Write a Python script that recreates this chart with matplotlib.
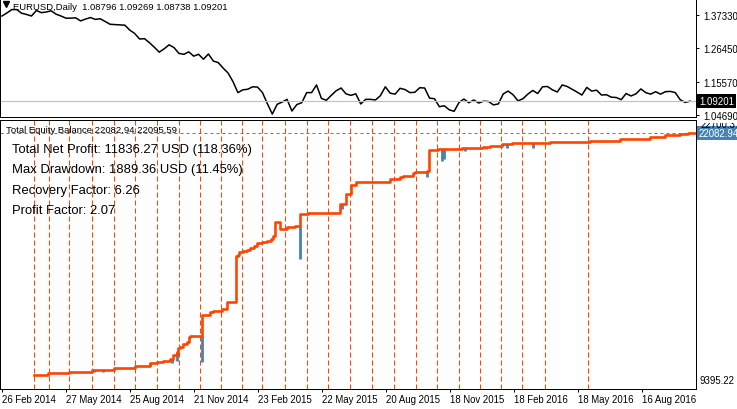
#!/usr/bin/env python3
import numpy as np
import matplotlib
matplotlib.use("Agg")
import matplotlib.pyplot as plt
from matplotlib.lines import Line2D
from matplotlib.transforms import Bbox

W, H = 737, 410

# EURUSD daily, read roughly once a week (close)
price = [1.3700, 1.3800, 1.3910, 1.3910, 1.3790, 1.3750, 1.3700, 1.3880, 1.3810, 1.3830,
         1.3870, 1.3760, 1.3700, 1.3630, 1.3630, 1.3640, 1.3540, 1.3600, 1.3650, 1.3590,
         1.3610, 1.3520, 1.3430, 1.3420, 1.3410, 1.3400, 1.3240, 1.3130, 1.2950, 1.2960,
         1.2830, 1.2680, 1.2520, 1.2630, 1.2760, 1.2670, 1.2480, 1.2450, 1.2530, 1.2390,
         1.2450, 1.2290, 1.2460, 1.2230, 1.2180, 1.2000, 1.1840, 1.1560, 1.1200, 1.1290,
         1.1310, 1.1390, 1.1380, 1.1200, 1.0840, 1.0500, 1.0820, 1.0890, 1.0980, 1.0600,
         1.0810, 1.0870, 1.1200, 1.1200, 1.1450, 1.1010, 1.0950, 1.1110, 1.1260, 1.1350,
         1.1160, 1.1110, 1.1160, 1.0830, 1.0980, 1.0980, 1.0960, 1.1100, 1.1390, 1.1180,
         1.1150, 1.1340, 1.1300, 1.1200, 1.1210, 1.1360, 1.1350, 1.1020, 1.1000, 1.0740,
         1.0770, 1.0640, 1.0590, 1.0880, 1.0990, 1.0870, 1.0960, 1.0860, 1.0920, 1.0910,
         1.0800, 1.0830, 1.1160, 1.1250, 1.1130, 1.0930, 1.1000, 1.1150, 1.1270, 1.1170,
         1.1390, 1.1400, 1.1290, 1.1220, 1.1450, 1.1400, 1.1310, 1.1220, 1.1120, 1.1370,
         1.1250, 1.1280, 1.1120, 1.1130, 1.1050, 1.1040, 1.0970, 1.1170, 1.1090, 1.1160,
         1.1320, 1.1200, 1.1150, 1.1230, 1.1150, 1.1230, 1.1240, 1.1200, 1.0970, 1.0880,
         1.09201]
last_price = 1.09201
price_ticks = [1.37330, 1.26450, 1.15570, 1.04690]

# x axis is in daily bars, bar 0 = 26 Feb 2014
date_ticks = [0, 64, 128, 192, 256, 320, 384, 448, 512, 576, 640]
date_labels = ["26 Feb 2014", "27 May 2014", "25 Aug 2014", "21 Nov 2014", "23 Feb 2015",
               "22 May 2015", "20 Aug 2015", "18 Nov 2015", "18 Feb 2016", "18 May 2016",
               "16 Aug 2016"]

# balance steps (bar, USD)
balance_bar = [32, 46, 67, 90, 112, 133, 148, 155, 161, 168, 171, 175, 176, 178, 181, 185,
               187, 188, 200, 208, 211, 220, 225, 228, 234, 236, 237, 241, 245, 248, 252,
               255, 260, 265, 269, 271, 273, 278, 285, 293, 298, 306, 338, 344, 349, 354,
               388, 398, 401, 411, 413, 425, 427, 436, 460, 481, 488, 500, 510, 521, 531,
               548, 588, 618, 648, 663, 678, 686, 693]
balance = [9652, 9755, 9822, 9909, 10012, 10130, 10268, 10335, 10387, 10474, 10680, 10834,
           11039, 11090, 11245, 11363, 11604, 11671, 12734, 12888, 12955, 13043, 13387, 13418,
           15781, 15817, 15971, 16037, 16089, 16176, 16294, 16433, 16469, 16551, 16638, 16808,
           17527, 17152, 17239, 17321, 17907, 17974, 18436, 18950, 19412, 19566, 19720, 19839,
           19890, 20029, 20065, 20147, 21226, 21277, 21328, 21380, 21431, 21503, 21554, 21585,
           21554, 21621, 21672, 21775, 21878, 21981, 22030, 22082.94, 22082.94]

# equity drawdowns below balance (bar, lowest equity)
dip_bar = [92, 101, 148, 170, 175, 199.5, 243.5, 297.5, 340, 425, 439.5, 442, 463, 483.5,
           504.5, 531]
dip_low = [9830, 9830, 10114, 10268, 10387, 10320, 15971, 15611, 18180, 19839, 20630, 20748,
           21174, 21287, 21328, 21297]

# vertical month separators (bar)
month_bars = [32, 47, 67, 90, 112, 133, 155, 177, 198, 219, 240, 260, 283, 305, 326, 348,
              370, 392, 414, 435, 457, 478, 499, 520, 543, 586]

final_balance = 22082.94
equity_top = 22700.37
equity_low = 9395.22

ORANGE = "#FF4500"
BLUE = "#4682B4"

plt.rcParams['font.family'] = ['Liberation Sans', 'DejaVu Sans']


def fx(x):
    return x / W


def fy(y):
    return 1 - y / H


def main():
    fig = plt.figure(figsize=(W / 100, H / 100), dpi=100)

    # price panel
    ax1 = fig.add_axes([0, fy(118), 696 / W, 118 / H])
    bars = np.linspace(0, 688, len(price))
    ax1.plot(bars, price, color='black', lw=1.1)
    ax1.axhline(last_price, color='#C0C0C0', lw=0.8)
    ax1.set_xlim(-2, 694)
    ax1.set_ylim(1.0404, 1.4255)
    ax1.set_xticks([])
    ax1.yaxis.tick_right()
    ax1.set_yticks(price_ticks)
    ax1.set_yticklabels(["%.5f" % v for v in price_ticks])
    ax1.tick_params(axis='y', length=2.5, width=0.72, pad=3, labelsize=6.9)
    for s in ax1.spines.values():
        s.set_linewidth(0.72)

    # equity / balance panel
    ax2 = fig.add_axes([0, fy(390), 696 / W, 269 / H])
    ax2.set_xlim(-2, 694)
    ax2.set_ylim(8933, 22751)
    for b in month_bars:
        ax2.axvline(b, color=ORANGE, lw=0.72, dashes=(5, 3), zorder=1)
    ax2.axhline(final_balance, color=BLUE, lw=0.72, dashes=(3, 3), zorder=1)

    idx = np.searchsorted(balance_bar, dip_bar, side='right') - 1
    tops = np.array(balance)[idx]
    ax2.vlines(dip_bar, dip_low, tops, color=BLUE, lw=2.0, zorder=2)
    ax2.step(balance_bar, balance, where='post', color=ORANGE, lw=1.9, zorder=3)

    ax2.set_yticks([])
    ax2.set_xticks(date_ticks)
    ax2.set_xticklabels(date_labels, ha='left')
    ax2.tick_params(axis='x', length=2.2, width=0.72, pad=1.5, labelsize=6.9)
    for s in ax2.spines.values():
        s.set_linewidth(0.72)

    # panel captions
    fig.add_artist(Line2D([fx(6)], [fy(5)], marker='v', markersize=4, color='black',
                          transform=fig.transFigure))
    fig.text(fx(13), fy(7), "EURUSD,Daily  1.08796 1.09269 1.08738 1.09201",
             fontsize=6.8, va='center')
    fig.text(fx(6.5), fy(130.5), "Total Equity Balance 22082.94 22095.59",
             fontsize=6.8, va='center')

    stats = ["Total Net Profit: 11836.27 USD (118.36%)",
             "Max Drawdown: 1889.36 USD (11.45%)",
             "Recovery Factor: 6.26",
             "Profit Factor: 2.07"]
    for i, t in enumerate(stats):
        fig.text(fx(12.5), fy(150 + 20.5 * i), t, fontsize=9.4, va='center')

    # right side value labels
    fig.text(fx(699), fy(102), "1.09201", color='white', fontsize=6.9, va='center',
             bbox=dict(boxstyle='square,pad=0.25', fc='black', ec='none'))
    fig.text(fx(699), fy(134), "%.2f" % final_balance, color='white', fontsize=6.9,
             va='center', bbox=dict(boxstyle='square,pad=0.25', fc=BLUE, ec='none'))
    t = fig.text(fx(701), fy(124.5), "%.2f" % equity_top, fontsize=6.9, va='center')
    t.set_clip_box(Bbox([[690, 0], [W, H - 124]]))
    fig.text(fx(700), fy(381), "%.2f" % equity_low, fontsize=6.9, va='center')

    fig.savefig("out.png", dpi=100)


if __name__ == "__main__":
    main()
